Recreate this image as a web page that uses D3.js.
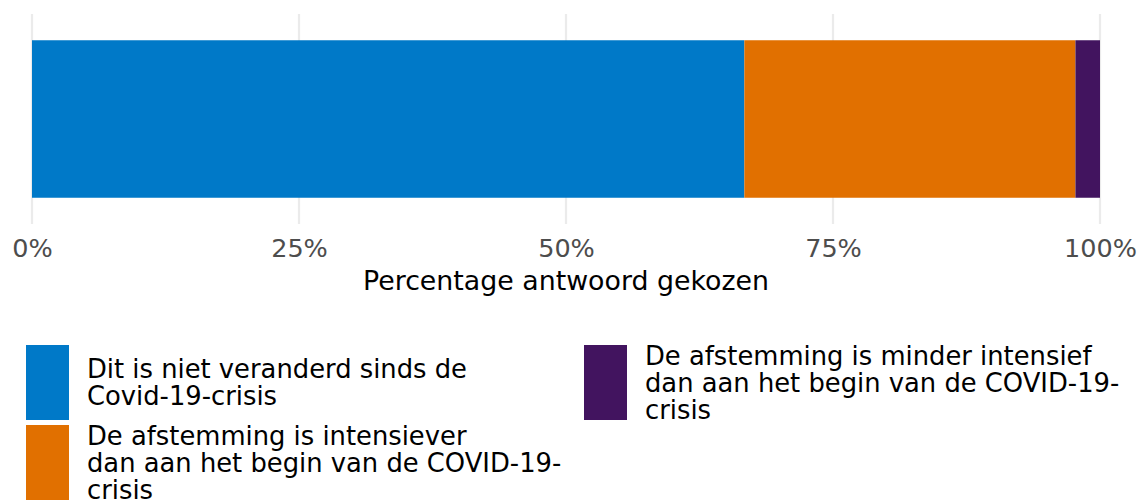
<!DOCTYPE html>
<html>
<head>
<meta charset="utf-8">
<script src="https://cdn.jsdelivr.net/npm/d3@7"></script>
<style>
  html, body { margin: 0; padding: 0; background: #fff; }
  svg { display: block; font-family: "DejaVu Sans", Verdana, sans-serif; }
</style>
</head>
<body>
<svg id="chart" width="1145" height="500"></svg>
<script>
// ---- data ----
const categories = ["Afstemming"];
const seriesNames = [
  "Dit is niet veranderd sinds de Covid-19-crisis",
  "De afstemming is intensiever dan aan het begin van de COVID-19-crisis",
  "De afstemming is minder intensief dan aan het begin van de COVID-19-crisis"
];
const seriesLines = [
  ["Dit is niet veranderd sinds de", "Covid-19-crisis"],
  ["De afstemming is intensiever", "dan aan het begin van de COVID-19-", "crisis"],
  ["De afstemming is minder intensief", "dan aan het begin van de COVID-19-", "crisis"]
];
const seriesValues = [0.667, 0.310, 0.023];
const seriesColors = ["#0079C8", "#E17000", "#42145F"];
const tickValues = [0, 0.25, 0.5, 0.75, 1];
const tickLabels = ["0%", "25%", "50%", "75%", "100%"];
const axisTitle = "Percentage antwoord gekozen";

// ---- drawing ----
const svg = d3.select("#chart");
const fsTick = 25.5, fsTitle = 26.8, fsLegend = 25.8;

const x = d3.scaleLinear().domain([0, 1]).range([32, 1100]);
const y = d3.scaleBand().domain(categories).range([14, 224]).paddingInner(0.25).paddingOuter(0.125);

// gridlines
svg.append("g").selectAll("line").data(tickValues).join("line")
  .attr("x1", d => x(d)).attr("x2", d => x(d))
  .attr("y1", 14).attr("y2", 224)
  .attr("stroke", "#ebebeb").attr("stroke-width", 2.2);

// stacked bars
const stackData = [];
let cum = 0;
seriesValues.forEach((v, i) => { stackData.push({ x0: cum, x1: cum + v, i }); cum += v; });

svg.append("g").selectAll("rect").data(stackData).join("rect")
  .attr("x", d => x(d.x0))
  .attr("width", d => x(Math.min(1, d.x1)) - x(d.x0))
  .attr("y", y(categories[0]))
  .attr("height", y.bandwidth())
  .attr("fill", d => seriesColors[d.i]);

// axis
const axis = d3.axisBottom(x).tickValues(tickValues).tickFormat((d, i) => tickLabels[i]).tickSize(0).tickPadding(0);
const gAxis = svg.append("g").attr("transform", "translate(0,224)").call(axis);
gAxis.select(".domain").remove();
gAxis.selectAll("text")
  .attr("y", 33).attr("dy", null)
  .attr("font-size", fsTick).attr("font-family", "DejaVu Sans, Verdana, sans-serif")
  .attr("fill", "#4d4d4d");

svg.append("text")
  .attr("x", x(0.5)).attr("y", 290)
  .attr("text-anchor", "middle")
  .attr("font-size", fsTitle).attr("fill", "#000")
  .text(axisTitle);

// legend
const legendPos = [
  { sx: 26, tx: 87, sy: 345 },
  { sx: 26, tx: 87, sy: 425 },
  { sx: 584, tx: 645, sy: 345 }
];
const sw = 43, sh = 75, lh = 27;
const lg = svg.append("g").selectAll("g").data(seriesNames).join("g");
lg.append("rect")
  .attr("x", (d, i) => legendPos[i].sx)
  .attr("y", (d, i) => legendPos[i].sy)
  .attr("width", sw).attr("height", sh)
  .attr("fill", (d, i) => seriesColors[i]);
lg.each(function (d, i) {
  const lines = seriesLines[i];
  const cy = legendPos[i].sy + sh / 2;
  const first = cy - (lines.length - 1) * lh / 2;
  const t = d3.select(this).append("text")
    .attr("font-size", fsLegend).attr("fill", "#000");
  lines.forEach((ln, j) => {
    t.append("tspan")
      .attr("x", legendPos[i].tx)
      .attr("y", first + j * lh + 9)
      .text(ln);
  });
});
</script>
</body>
</html>
